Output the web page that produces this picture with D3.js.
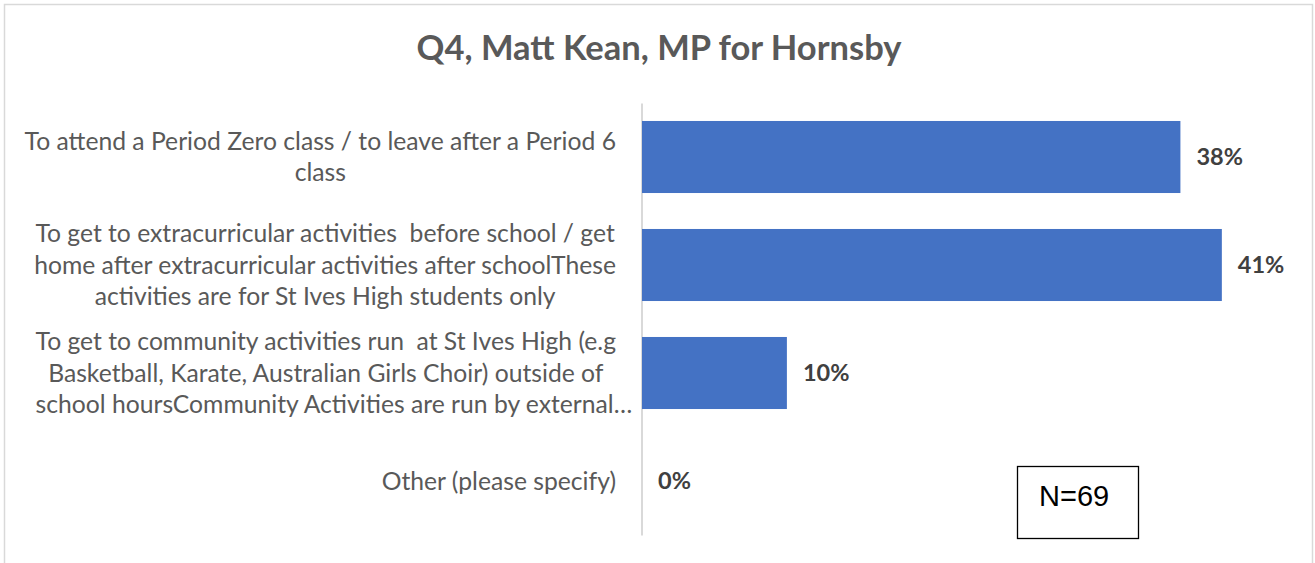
<!DOCTYPE html>
<html>
<head>
<meta charset="utf-8">
<script src="https://cdn.jsdelivr.net/npm/d3@7"></script>
<style>
  html, body { margin: 0; padding: 0; background: #fff; }
  svg { display: block; }
</style>
</head>
<body>
<div id="chart"></div>
<script>
(function () {
  'use strict';

  var title = 'Q4, Matt Kean, MP for Hornsby';
  var categories = [
    'To attend a Period Zero class / to leave after a Period 6\nclass',
    'To get to extracurricular activities  before school / get\nhome after extracurricular activities after schoolThese\nactivities are for St Ives High students only',
    'To get to community activities run  at St Ives High (e.g\nBasketball, Karate, Australian Girls Choir) outside of\nschool hoursCommunity Activities are run by external\u2026',
    'Other (please specify)'
  ];
  var values = [0.3768, 0.4058, 0.1014, 0];
  var sampleNote = 'N=69';

  var width = 1315,
      height = 563,
      margin = {top: 103, right: 30, bottom: 28, left: 642};

  var svg = d3.select('#chart').append('svg')
      .attr('width', width)
      .attr('height', height);

  // outer chart frame (bottom edge falls off the picture)
  svg.append('rect')
      .attr('x', 4.5).attr('y', 4.5)
      .attr('width', 1308).attr('height', 600)
      .attr('fill', '#fff')
      .attr('stroke', '#d9d9d9')
      .attr('stroke-width', 1.5);

  svg.append('text')
      .attr('x', 659).attr('y', 60)
      .attr('text-anchor', 'middle')
      .attr('font-family', 'Lato, "Open Sans", sans-serif')
      .attr('font-weight', 'bold')
      .attr('font-size', 34.5)
      .attr('fill', '#595959')
      .text(title);

  var x = d3.scaleLinear()
      .domain([0, 0.45])
      .range([margin.left, width - margin.right]);

  var y = d3.scaleBand()
      .domain(d3.range(categories.length))
      .range([margin.top, height - margin.bottom])
      .paddingInner(0.333)
      .paddingOuter(0.1665);

  var axis = svg.append('g')
      .attr('transform', 'translate(' + margin.left + ',0)')
      .call(d3.axisLeft(y).tickSize(0).tickSizeOuter(0).tickPadding(26));

  axis.select('.domain')
      .attr('stroke', '#d9d9d9')
      .attr('stroke-width', 2)
      .attr('transform', 'translate(-0.5,0)');

  // wrapped labels: block right-aligned to the axis, lines centred in the block,
  // a truncated (…) line starts at the block's left edge and may overhang
  var lineHeight = 31.5;
  axis.selectAll('.tick text')
      .attr('font-family', 'Lato, "Open Sans", sans-serif')
      .attr('font-size', 24.7)
      .attr('fill', '#595959')
      .style('white-space', 'pre')
      .each(function (d) {
        var t = d3.select(this),
            lines = categories[d].split('\n');
        t.text(null).attr('dy', null);
        var spans = lines.map(function (line, i) {
          return t.append('tspan')
              .attr('y', (i - (lines.length - 1) / 2) * lineHeight)
              .attr('dy', '0.35em')
              .text(line);
        });
        var full = spans.filter(function (s) { return !/\u2026$/.test(s.text()); });
        var maxW = d3.max(full.length ? full : spans, function (s) { return s.node().getComputedTextLength(); });
        var cx = -26 - maxW / 2;
        spans.forEach(function (s) {
          if (/\u2026$/.test(s.text()) && full.length) {
            s.attr('text-anchor', 'start').attr('x', -26 - maxW);
          } else {
            s.attr('text-anchor', 'middle').attr('x', cx);
          }
        });
      });

  svg.append('g').selectAll('rect')
      .data(values)
      .enter()
      .append('rect')
      .attr('x', x(0))
      .attr('y', function (d, i) { return y(i); })
      .attr('width', function (d) { return x(d) - x(0); })
      .attr('height', y.bandwidth())
      .attr('fill', '#4472c4');

  svg.append('g').selectAll('text')
      .data(values)
      .enter()
      .append('text')
      .attr('x', function (d) { return x(d) + 16; })
      .attr('y', function (d, i) { return y(i) + y.bandwidth() / 2; })
      .attr('dy', '0.35em')
      .attr('font-family', 'Lato, "Open Sans", sans-serif')
      .attr('font-weight', 'bold')
      .attr('font-size', 23.5)
      .attr('fill', '#404040')
      .text(d3.format('.0%'));

  var note = svg.append('g').attr('transform', 'translate(1017,466)');
  note.append('rect')
      .attr('x', 0.5).attr('y', 0.5)
      .attr('width', 121).attr('height', 72)
      .attr('fill', '#fff')
      .attr('stroke', '#000')
      .attr('stroke-width', 1.3);
  note.append('text')
      .attr('x', 22).attr('y', 40)
      .attr('font-family', '"Liberation Sans", Arial, sans-serif')
      .attr('font-size', 29)
      .attr('fill', '#000')
      .text(sampleNote);
}());
</script>
</body>
</html>
